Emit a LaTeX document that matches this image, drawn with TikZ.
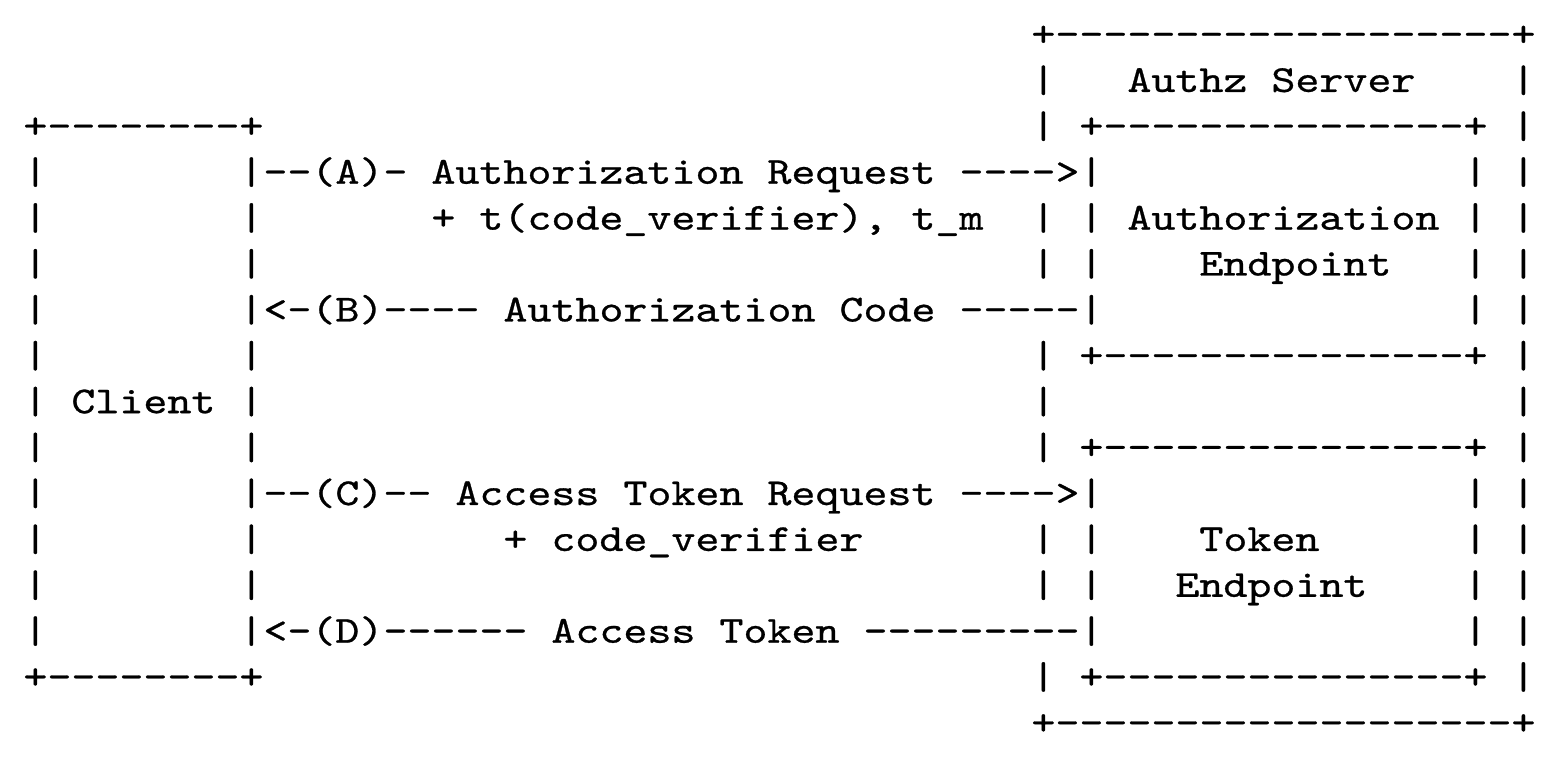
\documentclass[tikz,border=0pt]{standalone}
\usepackage{fontspec}
\usetikzlibrary{positioning}
\newfontfamily\flowmono{lmmono10-regular.otf}[FakeStretch=1.2, FakeBold=0.7]

% one column = one character cell, one row = one text line
\tikzset{
  asc/.style={font=\flowmono\fontsize{19.05pt}{23pt}\selectfont, inner sep=0pt, anchor=base west},
}

\begin{document}
\begin{tikzpicture}[x=12pt, y=-22.95pt]
  \useasboundingbox (6.042,-1.002) rectangle (70.708,15.817);

  % Client box
  \node[asc] (cltop) at (7,2) {+--------+};
  \node[asc] (clbot) at (7,14) {+--------+};
  \foreach \r in {3,...,13} {
    \node[asc] (cll\r) at (7,\r) {|};
    \node[asc] (clr\r) at (16,\r) {|};
  }
  \node[asc] (client) at (9,8) {Client};

  % Authz server (outer box)
  \node[asc] (srvtop) at (49,0) {+-------------------+};
  \node[asc] (srvbot) at (49,15) {+-------------------+};
  \foreach \r in {1,...,14} {
    \node[asc] (srvr\r) at (69,\r) {|};
  }
  \foreach \r in {1,2,4,5,7,8,9,11,12,14} {
    \node[asc] (srvl\r) at (49,\r) {|};
  }
  \node[asc] (srvname) at (53,1) {Authz Server};

  % Authorization endpoint
  \node[asc] (aetop) at (51,2) {+---------------+};
  \node[asc] (aebot) at (51,7) {+---------------+};
  \foreach \r in {3,...,6} {
    \node[asc] (ael\r) at (51,\r) {|};
    \node[asc] (aer\r) at (67,\r) {|};
  }
  \node[asc] (aename) at (53,4) {Authorization};
  \node[asc] (aename2) at (56,5) {Endpoint};

  % Token endpoint
  \node[asc] (tetop) at (51,9) {+---------------+};
  \node[asc] (tebot) at (51,14) {+---------------+};
  \foreach \r in {10,...,13} {
    \node[asc] (tel\r) at (51,\r) {|};
    \node[asc] (ter\r) at (67,\r) {|};
  }
  \node[asc] (tename) at (56,11) {Token};
  \node[asc] (tename2) at (55,12) {Endpoint};

  % Messages
  \node[asc] (msgA) at (17,3) {--(A)- Authorization Request ---->};
  \node[asc] (msgAx) at (24,4) {+ t(code\_verifier), t\_m};
  \node[asc] (msgB) at (17,6) {<-(B)---- Authorization Code -----};
  \node[asc] (msgC) at (17,10) {--(C)-- Access Token Request ---->};
  \node[asc] (msgCx) at (27,11) {+ code\_verifier};
  \node[asc] (msgD) at (17,13) {<-(D)------ Access Token ---------};
\end{tikzpicture}
\end{document}
